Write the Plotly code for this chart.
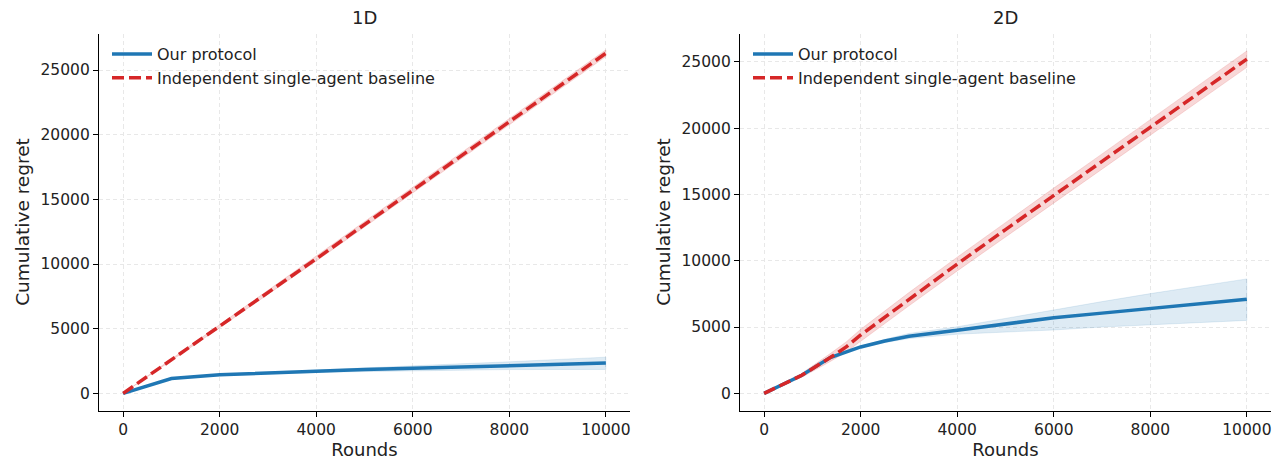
import plotly.graph_objects as go

# ---------------- data ----------------
x_1d = [0, 1000, 2000, 3000, 4000, 5000, 6000, 7000, 8000, 9000, 10000]
ours_1d = [0, 1150, 1430, 1580, 1730, 1840, 1940, 2040, 2140, 2240, 2340]
ours_1d_lo = [0, 1120, 1380, 1500, 1630, 1700, 1740, 1790, 1840, 1870, 1850]
ours_1d_hi = [0, 1180, 1480, 1650, 1830, 1980, 2140, 2290, 2440, 2600, 2800]

xb_1d = [0, 2000, 4000, 6000, 8000, 10000]
base_1d = [0, 5200, 10400, 15700, 21000, 26300]
base_1d_half = [0, 120, 170, 210, 240, 260]

x_2d = [0, 780, 1370, 1700, 2000, 2500, 3000, 4000, 5000, 6000, 7000, 8000, 9000, 10000]
ours_2d = [0, 1360, 2700, 3150, 3500, 3950, 4300, 4760, 5240, 5700, 6050, 6400, 6750, 7090]
ours_2d_hi = [0, 1390, 2740, 3200, 3560, 4080, 4520, 5020, 5650, 6330, 6920, 7520, 8080, 8630]
ours_2d_lo = [0, 1330, 2660, 3100, 3440, 3830, 4130, 4460, 4640, 4780, 5000, 5180, 5350, 5500]

xb_2d = [0, 780, 1370, 1700, 2000, 3000, 4000, 5000, 6000, 7000, 8000, 9000, 10000]
base_2d = [0, 1360, 2700, 3500, 4400, 7100, 9750, 12350, 14920, 17480, 20050, 22630, 25200]
base_2d_half = [0, 150, 300, 380, 430, 500, 520, 540, 560, 575, 590, 605, 620]

y_ticks = [0, 5000, 10000, 15000, 20000, 25000]
x_ticks = [0, 2000, 4000, 6000, 8000, 10000]
panel_titles = ["1D", "2D"]
series_names = ["Our protocol", "Independent single-agent baseline"]

BLUE = "#1f77b4"
RED = "#d62728"
BLUE_FILL = "rgba(31,119,180,0.15)"
RED_FILL = "rgba(214,39,40,0.18)"
FONT = "DejaVu Sans"

W, H = 1278, 461

fig = go.Figure()


def band(x, lo, hi, color, xa, ya):
    fig.add_trace(go.Scatter(
        x=list(x) + list(x)[::-1], y=list(hi) + list(lo)[::-1],
        fill="toself", fillcolor=color, mode="lines",
        line=dict(width=0.8, color=color), hoverinfo="skip",
        showlegend=False, xaxis=xa, yaxis=ya))


# left panel (1D)
band(x_1d, ours_1d_lo, ours_1d_hi, BLUE_FILL, "x", "y")
band(xb_1d, [v - h for v, h in zip(base_1d, base_1d_half)],
     [v + h for v, h in zip(base_1d, base_1d_half)], RED_FILL, "x", "y")
fig.add_trace(go.Scatter(x=x_1d, y=ours_1d, mode="lines", name=series_names[0],
                         line=dict(color=BLUE, width=3.5), xaxis="x", yaxis="y",
                         legend="legend"))
fig.add_trace(go.Scatter(x=xb_1d, y=base_1d, mode="lines", name=series_names[1],
                         line=dict(color=RED, width=3.5, dash="12px,5px"),
                         xaxis="x", yaxis="y", legend="legend"))

# right panel (2D)
band(x_2d, ours_2d_lo, ours_2d_hi, BLUE_FILL, "x2", "y2")
band(xb_2d, [v - h for v, h in zip(base_2d, base_2d_half)],
     [v + h for v, h in zip(base_2d, base_2d_half)], RED_FILL, "x2", "y2")
fig.add_trace(go.Scatter(x=x_2d, y=ours_2d, mode="lines", name=series_names[0],
                         line=dict(color=BLUE, width=3.5), xaxis="x2", yaxis="y2",
                         legend="legend2"))
fig.add_trace(go.Scatter(x=xb_2d, y=base_2d, mode="lines", name=series_names[1],
                         line=dict(color=RED, width=3.5, dash="12px,5px"),
                         xaxis="x2", yaxis="y2", legend="legend2"))

xdom = [[99 / W, 630 / W], [740 / W, 1271 / W]]
ydom = [1 - 410.5 / H, 1 - 33.5 / H]

common_axis = dict(
    showline=True, linecolor="black", linewidth=1.2, mirror=False,
    ticks="outside", ticklen=5, tickwidth=1.2, tickcolor="black",
    showgrid=True, gridcolor="#e8e8e8", gridwidth=1, griddash="4px,3px",
    zeroline=False, tickfont=dict(family=FONT, size=15.5, color="#222"),
    tickformat="d", automargin=False,
)

fig.update_layout(
    width=W, height=H, autosize=False,
    margin=dict(l=0, r=0, t=0, b=0),
    paper_bgcolor="white", plot_bgcolor="white",
    font=dict(family=FONT, color="#222"),
    xaxis=dict(domain=xdom[0], range=[-500, 10500], tickvals=x_ticks, anchor="y",
               title=dict(text="Rounds", font=dict(size=18), standoff=4), **common_axis),
    yaxis=dict(domain=ydom, range=[-1325, 27825], tickvals=y_ticks, anchor="x",
               title=dict(text="Cumulative regret", font=dict(size=18.5), standoff=6),
               **common_axis),
    xaxis2=dict(domain=xdom[1], range=[-500, 10500], tickvals=x_ticks, anchor="y2",
                title=dict(text="Rounds", font=dict(size=18), standoff=4), **common_axis),
    yaxis2=dict(domain=ydom, range=[-1292, 27132], tickvals=y_ticks, anchor="x2",
                title=dict(text="Cumulative regret", font=dict(size=18.5), standoff=6),
                **common_axis),
    legend=dict(x=107 / W, y=1 - 37 / H, xanchor="left", yanchor="top", itemwidth=40,
                bgcolor="rgba(0,0,0,0)", font=dict(family=FONT, size=16, color="#222")),
    legend2=dict(x=748 / W, y=1 - 37 / H, xanchor="left", yanchor="top", itemwidth=40,
                 bgcolor="rgba(0,0,0,0)", font=dict(family=FONT, size=16, color="#222")),
    annotations=[
        dict(text=panel_titles[0], x=sum(xdom[0]) / 2, y=1 - 17 / H, xref="paper",
             yref="paper", showarrow=False, xanchor="center", yanchor="middle",
             font=dict(family=FONT, size=18, color="#222")),
        dict(text=panel_titles[1], x=sum(xdom[1]) / 2, y=1 - 17 / H, xref="paper",
             yref="paper", showarrow=False, xanchor="center", yanchor="middle",
             font=dict(family=FONT, size=18, color="#222")),
    ],
)

fig.write_html("out.html", config={"displayModeBar": False},
               post_script="document.body.style.margin='0';document.body.style.overflow='hidden';")
